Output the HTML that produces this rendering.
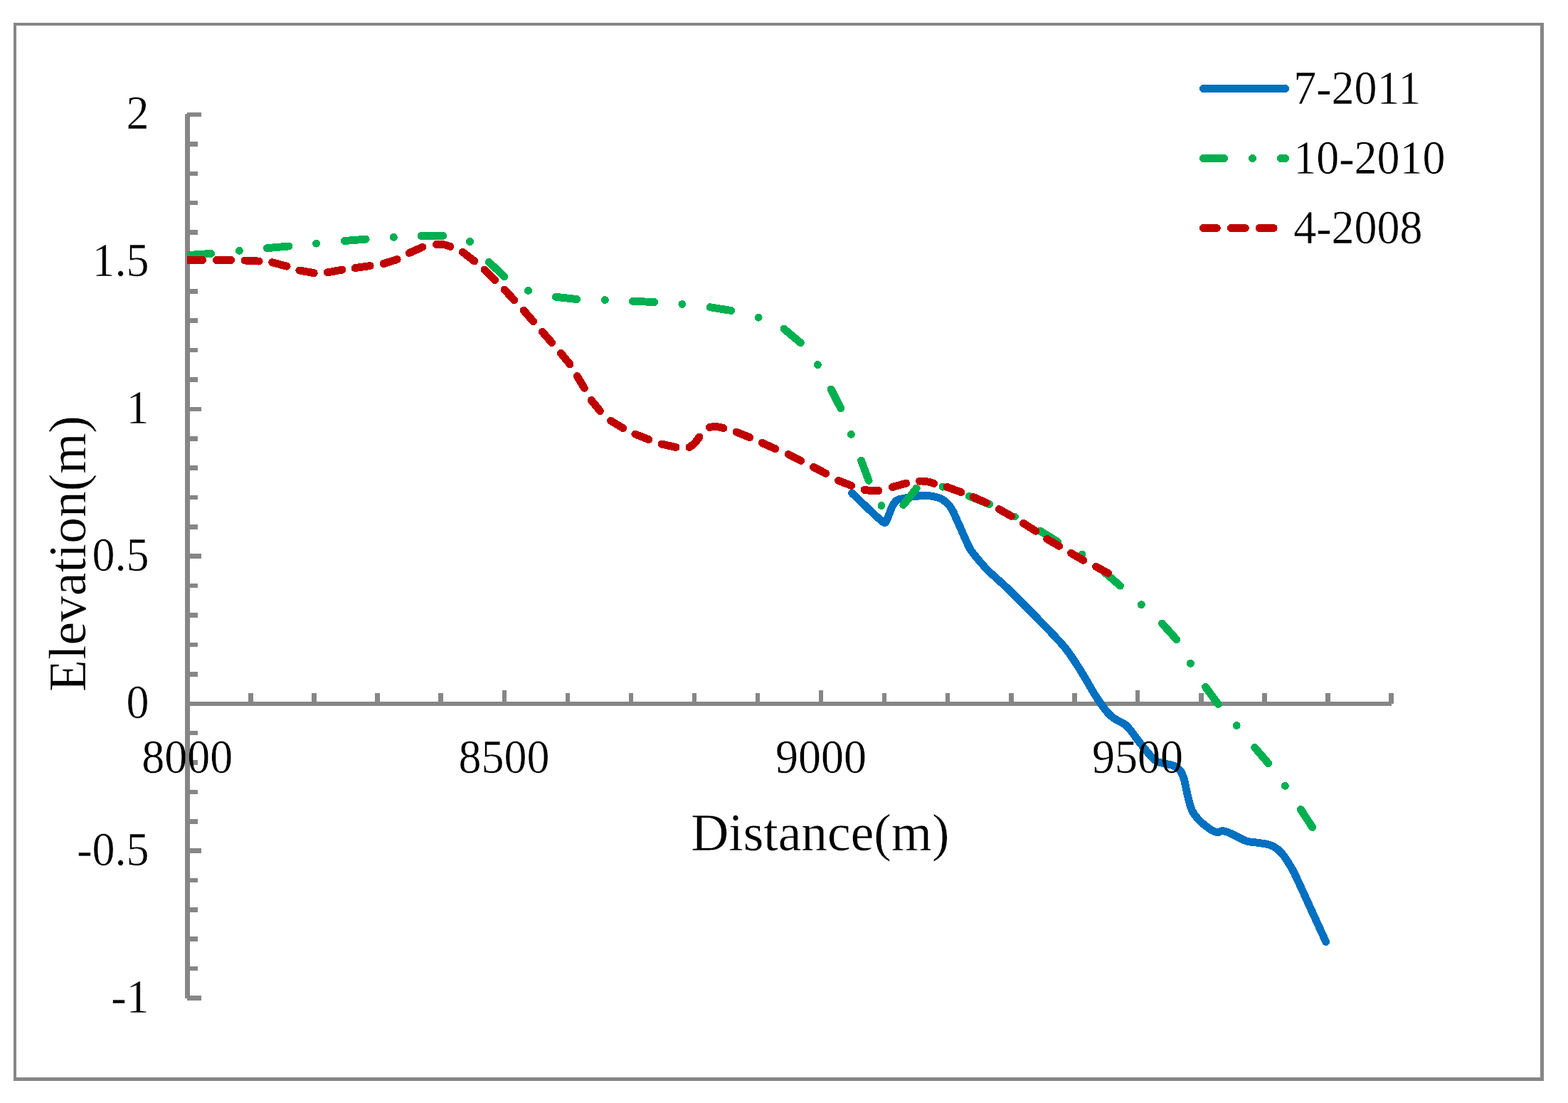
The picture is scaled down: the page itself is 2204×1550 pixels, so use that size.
<!DOCTYPE html>
<html lang="en"><head><meta charset="utf-8"><title>Elevation vs Distance</title>
<style>html,body{margin:0;padding:0;background:#fff;width:2204px;height:1550px;overflow:hidden}svg{display:block}text{font-family:"Liberation Serif",serif;fill:#000;stroke:#fff;stroke-width:0.4px;mix-blend-mode:multiply}.tk{font-size:64px}.ti{font-size:73.5px}.s{fill:none;stroke-width:10.9;stroke-linecap:round;stroke-linejoin:round}</style></head><body>
<svg width="2204" height="1550" viewBox="0 0 2204 1550">
<rect width="2204" height="1550" fill="#fff"/>
<g fill="#868686" shape-rendering="crispEdges">
<rect x="19" y="32" width="2151" height="4"/>
<rect x="19" y="32" width="4" height="1487"/>
<rect x="2165" y="32" width="5" height="1487"/>
<rect x="19" y="1514" width="2151" height="5"/>
<rect x="260" y="160" width="7" height="1243"/>
<rect x="263" y="1399" width="20" height="7"/>
<rect x="263" y="1358" width="15" height="6"/>
<rect x="263" y="1316" width="15" height="7"/>
<rect x="263" y="1275" width="15" height="7"/>
<rect x="263" y="1234" width="15" height="6"/>
<rect x="263" y="1192" width="20" height="7"/>
<rect x="263" y="1151" width="15" height="7"/>
<rect x="263" y="1110" width="15" height="6"/>
<rect x="263" y="1068" width="15" height="7"/>
<rect x="263" y="1027" width="15" height="6"/>
<rect x="263" y="944" width="15" height="7"/>
<rect x="263" y="903" width="15" height="6"/>
<rect x="263" y="861" width="15" height="7"/>
<rect x="263" y="820" width="15" height="6"/>
<rect x="263" y="778" width="20" height="7"/>
<rect x="263" y="737" width="15" height="7"/>
<rect x="263" y="696" width="15" height="6"/>
<rect x="263" y="654" width="15" height="7"/>
<rect x="263" y="613" width="15" height="7"/>
<rect x="263" y="572" width="20" height="6"/>
<rect x="263" y="530" width="15" height="7"/>
<rect x="263" y="489" width="15" height="6"/>
<rect x="263" y="447" width="15" height="7"/>
<rect x="263" y="406" width="15" height="7"/>
<rect x="263" y="365" width="20" height="6"/>
<rect x="263" y="323" width="15" height="7"/>
<rect x="263" y="282" width="15" height="6"/>
<rect x="263" y="241" width="15" height="6"/>
<rect x="263" y="199" width="15" height="7"/>
<rect x="263" y="158" width="20" height="6"/>
<rect x="263" y="986" width="1693" height="6"/>
<rect x="349" y="974" width="7" height="15"/>
<rect x="438" y="974" width="7" height="15"/>
<rect x="527" y="974" width="7" height="15"/>
<rect x="616" y="974" width="7" height="15"/>
<rect x="706" y="970" width="6" height="19"/>
<rect x="795" y="974" width="6" height="15"/>
<rect x="884" y="974" width="6" height="15"/>
<rect x="973" y="974" width="6" height="15"/>
<rect x="1062" y="974" width="6" height="15"/>
<rect x="1151" y="970" width="6" height="19"/>
<rect x="1240" y="974" width="6" height="15"/>
<rect x="1329" y="974" width="6" height="15"/>
<rect x="1418" y="974" width="7" height="15"/>
<rect x="1507" y="974" width="7" height="15"/>
<rect x="1596" y="970" width="6" height="19"/>
<rect x="1685" y="974" width="7" height="15"/>
<rect x="1774" y="974" width="7" height="15"/>
<rect x="1863" y="974" width="7" height="15"/>
<rect x="1952" y="974" width="7" height="15"/>
</g>
<clipPath id="pc"><rect x="263" y="140" width="1700" height="1280"/></clipPath>
<g clip-path="url(#pc)" shape-rendering="crispEdges">
<path class="s" stroke="#0070C0" d="M1197.6 693C1201.5 696.7 1214.4 709.2 1220.8 715.2C1227.2 721.2 1232.1 726.1 1236 729.3C1239.9 732.5 1242 735.4 1244.2 734.4C1246.4 733.4 1247.6 727.5 1249.4 723.5C1251.2 719.5 1253 713.7 1254.9 710.3C1256.8 706.9 1258.2 704.7 1260.8 703C1263.4 701.3 1267.2 701.1 1270.7 700.3C1274.2 699.5 1278.2 698.6 1282 698C1285.8 697.4 1290 697.1 1293.4 696.8C1296.8 696.5 1298.7 696.1 1302.5 696.4C1306.3 696.7 1312.3 697.6 1316.1 698.6C1319.9 699.6 1322.2 700.2 1325.2 702.2C1328.2 704.2 1331.9 707.6 1334.3 710.4C1336.7 713.2 1338 715.9 1339.7 719C1341.4 722.1 1342.6 725.5 1344.2 729C1345.8 732.5 1347.6 736.3 1349.2 739.9C1350.8 743.5 1352.3 747.2 1353.8 750.7C1355.3 754.2 1356.9 757.4 1358.4 760.7C1359.9 764 1361.2 767.4 1363 770.5C1364.8 773.6 1367.2 776.6 1369.4 779.5C1371.6 782.4 1374.5 785.8 1376.4 788C1378.3 790.2 1379.2 790.9 1381 793C1382.8 795.1 1384.4 797.6 1387.4 800.6C1390.4 803.6 1393.9 806.5 1399 811.1C1404.1 815.8 1410.6 821.4 1418 828.5C1425.4 835.6 1435.8 846.1 1443.4 853.8C1451 861.5 1457 867.6 1463.8 874.6C1470.6 881.6 1478.5 889.8 1484.2 895.9C1489.9 902 1493.7 906.1 1497.8 911.2C1501.9 916.3 1505.3 921.5 1508.7 926.5C1512.1 931.5 1515 936.1 1518.3 941.4C1521.6 946.7 1525.1 952.7 1528.5 958.4C1531.9 964.1 1535.5 970.7 1538.7 975.8C1541.9 980.9 1544.7 985 1547.5 989C1550.3 993 1552.9 996.7 1555.7 1000C1558.5 1003.3 1561.4 1006.3 1564.5 1008.6C1567.6 1010.9 1571.1 1012.3 1574.1 1014C1577 1015.7 1579.6 1016.6 1582.2 1018.8C1584.8 1020.9 1586.7 1023.1 1589.7 1026.9C1592.7 1030.7 1596.4 1036.2 1600.4 1041.4C1604.5 1046.7 1610.7 1054.4 1614 1058.4C1617.3 1062.4 1618.2 1063.4 1620.5 1065.4C1622.8 1067.5 1624.5 1069.4 1627.6 1070.7C1630.7 1072 1635.5 1072.5 1639.2 1073.4C1643 1074.3 1646.8 1074.7 1650.1 1076.2C1653.4 1077.8 1656.5 1079.8 1658.8 1082.7C1661.1 1085.7 1662.4 1088.9 1664 1093.9C1665.6 1099 1666.9 1107.1 1668.3 1113C1669.7 1118.9 1670.8 1124.6 1672.2 1129.3C1673.6 1134 1674.5 1137.2 1676.6 1140.9C1678.7 1144.7 1681.6 1148.4 1684.8 1151.8C1688 1155.2 1692.3 1158.7 1695.7 1161.3C1699.1 1163.9 1702.4 1166.2 1705 1167.6C1707.6 1169 1709.3 1169.7 1711.5 1169.7C1713.7 1169.7 1715.5 1167.4 1718.3 1167.6C1721.1 1167.8 1724.7 1169 1728.5 1170.6C1732.3 1172.2 1737.3 1175.1 1741.4 1177C1745.5 1178.9 1748.7 1181 1753 1182.2C1757.3 1183.4 1762.6 1183.5 1767.3 1184.2C1772 1184.9 1776.9 1185.3 1780.9 1186.3C1785 1187.3 1788.1 1188.3 1791.6 1190.4C1795 1192.5 1798.5 1195.6 1801.6 1199C1804.7 1202.4 1807.2 1206.5 1810 1210.8C1812.8 1215.1 1815.6 1219.8 1818.4 1225.1C1821.2 1230.4 1824 1236.8 1826.8 1242.8C1829.6 1248.8 1832.3 1254.9 1835.2 1261.1C1838 1267.3 1841 1274 1843.9 1280.2C1846.8 1286.5 1849.6 1292.7 1852.3 1298.6C1855 1304.5 1858.2 1311.4 1860.1 1315.6C1862 1319.8 1863.1 1322.2 1863.7 1323.5"/>
<path class="s" stroke="#00B050" d="M250 359.5Q252.6 359.3 296.7 356.4M336.4 352.4h0.01M375.2 348.7L405.8 346M444.6 342.2h0.01M484.4 338.5L514.1 336.2M553.3 333.3h0.01M592.1 331.5Q606.5 331 622.8 331.3M660.5 339.5h0.01M687.1 368.3Q698.6 378.5 708.9 388.7M742.5 408.4h0.01M781.3 417.3L810.7 420.5M850.3 421.5h0.01M889.4 423.3L919.7 424.5M958.9 427.4h0.01M998 431.7L1027.7 436.5M1066.1 446.3h0.01M1102.1 462.3L1125.3 481.7M1149.4 512.6h0.01M1168.2 547L1181.8 573.8M1196.4 610.4h0.01M1210.5 647.2L1221.1 675.3M1239 710.6h0.01M1269.8 709.6L1288.2 686.2M1325 684.2h0.01M1362.4 697.2L1390.6 708.5M1426.4 726h0.01M1461.8 746L1486.6 761.2M1521 778.9h0.01M1553 804.7L1574.5 823.1M1604.3 849.7h0.01M1633.5 876.1L1653.7 898.7M1673.4 932.3h0.01M1694.5 965.4L1712.2 989.5M1738.2 1019.6h0.01M1763.7 1050.4L1782.8 1072.8M1806.3 1104.4h0.01M1828.4 1137.5L1844.7 1162.6"/>
<path class="s" stroke="#C00000" d="M250 365.6L284.6 365.5M304.3 365.5L324.7 365.5M344.2 366L364.1 367.1M382.7 368.7L403.1 374.2M420.8 380L441.2 383.7M460.3 382.8L481.1 379.1M499.1 376.6L520.2 373.6M539.1 370.6L558.1 364.6M575.1 355.6L593.9 347.2M613.2 343.4Q622.9 342.3 633 346.5M650.3 354.2L666.7 366.9M681 379.2L695.6 393.7M709.2 407.1L722.8 421.8M736.1 436.3L749.6 451.7M762.3 466.3L775.6 481.6M788.4 496.4L801 511.8M811.2 528.4L821.4 545.4M831.2 562.4L843.5 577.6M858.5 591.3L875.8 601.7M892.8 610.1L911.9 617.7M930.2 624.1L950 628.5M969 628.5Q977 623.6 982.9 614.2M997.2 600.6Q1005.9 598 1017 601.7M1035 607.1L1053.8 614.6M1071.1 622.4L1089.9 630.7M1108.2 638.5L1125.7 647.4M1143.4 656.4L1160.8 665.3M1178.5 675.3L1196.8 682.5M1215 688.4Q1225 690 1235 689.5M1254.2 684.5L1273.8 679.1M1292.5 676.1Q1301.4 675.5 1312.7 679.4M1331 684.4L1351 691.7M1368.3 698.6L1386.3 706.5M1404.2 715.6L1421.7 725.4M1438.3 735.3L1455.7 746.2M1471.8 757.5L1488.6 767.3M1505.4 777.3L1522.8 787.3M1540.5 796.3L1557.5 805.4"/>
</g>
<g class="s" style="stroke-width:10.9" shape-rendering="crispEdges">
<path stroke="#0070C0" d="M1691.4 124.5H1806.6"/>
<path stroke="#00B050" d="M1691.4 222.5H1720.6M1760.5 222.5h0.01M1800.4 222.5H1806.6"/>
<path stroke="#C00000" d="M1691.4 320.5H1710.3M1730.4 320.5H1750.3M1770.1 320.5H1790.2"/>
</g>
<text class="tk" text-anchor="end" transform="translate(209.6 181.3) scale(1 1.062)">2</text>
<text class="tk" text-anchor="end" transform="translate(209.6 388.3) scale(1 1.062)">1.5</text>
<text class="tk" text-anchor="end" transform="translate(209.6 595.3) scale(1 1.062)">1</text>
<text class="tk" text-anchor="end" transform="translate(209.6 802.3) scale(1 1.062)">0.5</text>
<text class="tk" text-anchor="end" transform="translate(209.6 1009.3) scale(1 1.062)">0</text>
<text class="tk" text-anchor="end" transform="translate(209.6 1216.3) scale(1 1.062)">-0.5</text>
<text class="tk" text-anchor="end" transform="translate(209.6 1422.8) scale(1 1.062)">-1</text>
<text class="tk" text-anchor="middle" transform="translate(263.3 1085.8) scale(1 1.062)">8000</text>
<text class="tk" text-anchor="middle" transform="translate(708.6 1085.8) scale(1 1.062)">8500</text>
<text class="tk" text-anchor="middle" transform="translate(1153.9 1085.8) scale(1 1.062)">9000</text>
<text class="tk" text-anchor="middle" transform="translate(1599.1 1085.8) scale(1 1.062)">9500</text>
<text class="tk" text-anchor="start" transform="translate(1818.3 145.7) scale(1 1.062)">7-2011</text>
<text class="tk" text-anchor="start" transform="translate(1818.3 243.7) scale(1 1.062)">10-2010</text>
<text class="tk" text-anchor="start" transform="translate(1818.3 341.7) scale(1 1.062)">4-2008</text>
<text class="ti" x="971.2" y="1194.6">Distance(m)</text>
<text class="ti" transform="translate(119.8 971.9) rotate(-90)">Elevation(m)</text>
</svg></body></html>
